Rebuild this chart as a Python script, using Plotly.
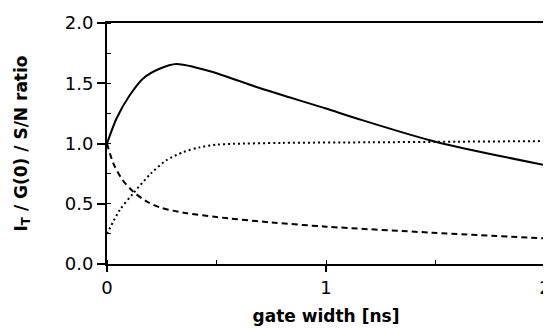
import plotly.graph_objects as go

# Data
solid_x = [0, 0.044, 0.1, 0.165, 0.24, 0.317, 0.47, 0.697, 1.0, 1.137, 1.5, 2.0]
solid_y = [1.0, 1.21, 1.39, 1.54, 1.62, 1.66, 1.60, 1.46, 1.29, 1.21, 1.015, 0.82]

dashed_x = [0, 0.029, 0.07, 0.12, 0.18, 0.241, 0.35, 0.5, 0.75, 1.0, 1.485, 2.0]
dashed_y = [1.0, 0.835, 0.70, 0.60, 0.52, 0.47, 0.425, 0.39, 0.345, 0.31, 0.26, 0.213]

dotted_x = [0, 0.059, 0.12, 0.2, 0.27, 0.35, 0.423, 0.5, 0.575, 0.8, 1.2, 1.6, 2.0]
dotted_y = [0.25, 0.45, 0.587, 0.75, 0.86, 0.93, 0.968, 0.99, 0.997, 1.005, 1.01, 1.015, 1.02]

x_ticks = [0, 1, 2]
y_ticks = [0.0, 0.5, 1.0, 1.5, 2.0]
y_tick_labels = ["0.0", "0.5", "1.0", "1.5", "2.0"]

fig = go.Figure()
fig.add_trace(go.Scatter(x=solid_x, y=solid_y, mode="lines",
                         line=dict(color="black", width=2, shape="spline", smoothing=0.8)))
fig.add_trace(go.Scatter(x=dashed_x, y=dashed_y, mode="lines",
                         line=dict(color="black", width=2, dash="6px,4px", shape="spline", smoothing=0.8)))
fig.add_trace(go.Scatter(x=dotted_x, y=dotted_y, mode="lines",
                         line=dict(color="black", width=2, dash="2px,3px", shape="spline", smoothing=0.8)))

font_family = "DejaVu Sans, Liberation Sans, Arial, sans-serif"

# the page body adds an 8px offset, so the figure is 8px smaller than the window
fig.update_layout(
    width=543, height=327,
    margin=dict(l=99, r=6, t=15, b=71),
    paper_bgcolor="white", plot_bgcolor="white",
    showlegend=False,
    font=dict(family=font_family, color="black", size=17),
    xaxis=dict(
        range=[0, 2], tickvals=x_ticks, ticktext=[str(v) for v in x_ticks],
        ticks="outside", ticklen=6, tickwidth=1.5, tickcolor="black",
        showline=True, linecolor="black", linewidth=2, mirror=True,
        showgrid=False, zeroline=False, automargin=False,
        minor=dict(ticks="inside", dtick=0.5, ticklen=4, tickcolor="black", tickwidth=1, showgrid=False),
        tickfont=dict(size=18),
        title=dict(text="<b>gate width [ns]</b>", font=dict(size=17), standoff=14),
    ),
    yaxis=dict(
        range=[0, 2], tickvals=y_ticks, ticktext=y_tick_labels,
        ticks="outside", ticklen=8, tickwidth=1.5, tickcolor="black",
        showline=True, linecolor="black", linewidth=2, mirror=True,
        showgrid=False, zeroline=False, automargin=False,
        minor=dict(ticks="inside", dtick=0.25, ticklen=4, tickcolor="black", tickwidth=1, showgrid=False),
        tickfont=dict(size=18),
        title=dict(text="<b>I<sub>T</sub> / G(0) / S/N ratio</b>", font=dict(size=17), standoff=33),
    ),
)

fig.write_html("out.html")
